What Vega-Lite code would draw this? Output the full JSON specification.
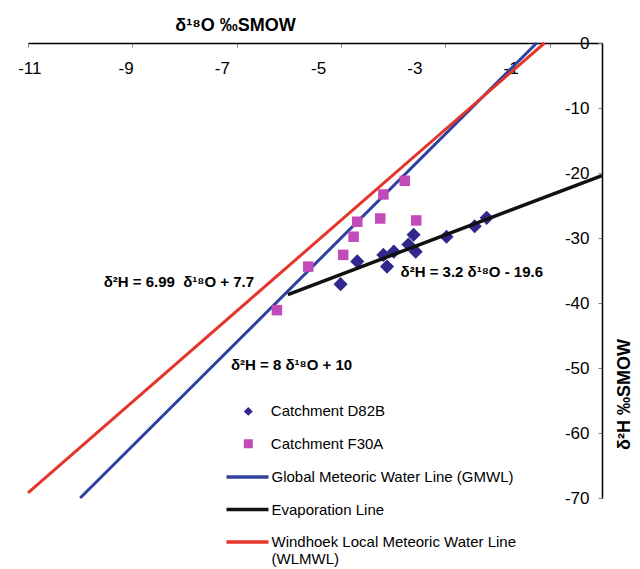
{
  "$schema": "https://vega.github.io/schema/vega-lite/v6.json",
  "width": 574,
  "height": 455,
  "autosize": {"type": "none"},
  "padding": {"left": 28, "top": 43, "right": 38, "bottom": 71},
  "background": "white",
  "config": {"view": {"stroke": null}, "font": "Liberation Sans", "axis": {"grid": false}},
  "datasets": {
    "pts": [
      {"x": -5.01, "y": -37.1, "series": "Catchment D82B"},
      {"x": -4.69, "y": -33.6, "series": "Catchment D82B"},
      {"x": -4.19, "y": -32.6, "series": "Catchment D82B"},
      {"x": -4.12, "y": -34.4, "series": "Catchment D82B"},
      {"x": -3.99, "y": -32.1, "series": "Catchment D82B"},
      {"x": -3.61, "y": -29.5, "series": "Catchment D82B"},
      {"x": -3.57, "y": -32.1, "series": "Catchment D82B"},
      {"x": -3.71, "y": -31.0, "series": "Catchment D82B"},
      {"x": -2.98, "y": -29.8, "series": "Catchment D82B"},
      {"x": -2.44, "y": -28.2, "series": "Catchment D82B"},
      {"x": -2.21, "y": -26.9, "series": "Catchment D82B"},
      {"x": -3.78, "y": -21.2, "series": "Catchment F30A"},
      {"x": -4.19, "y": -23.3, "series": "Catchment F30A"},
      {"x": -4.69, "y": -27.5, "series": "Catchment F30A"},
      {"x": -4.25, "y": -27.0, "series": "Catchment F30A"},
      {"x": -3.56, "y": -27.3, "series": "Catchment F30A"},
      {"x": -4.76, "y": -29.8, "series": "Catchment F30A"},
      {"x": -4.96, "y": -32.6, "series": "Catchment F30A"},
      {"x": -5.63, "y": -34.4, "series": "Catchment F30A"},
      {"x": -6.23, "y": -41.1, "series": "Catchment F30A"}
    ],
    "lines": [
      {"x": -10, "y": -70, "line": "Global Meteoric Water Line (GMWL)"},
      {"x": -1.25, "y": 0, "line": "Global Meteoric Water Line (GMWL)"},
      {"x": -11, "y": -69.2, "line": "Windhoek Local Meteoric Water Line (WLMWL)"},
      {"x": -1.1, "y": 0, "line": "Windhoek Local Meteoric Water Line (WLMWL)"},
      {"x": -6.02, "y": -38.7, "line": "Evaporation Line"},
      {"x": 0, "y": -20.4, "line": "Evaporation Line"}
    ],
    "notes": [
      {"x": -9.55, "y": -36.8, "label": "δ²H = 6.99\u00a0 δ¹⁸O + 7.7"},
      {"x": -3.86, "y": -35.3, "label": "δ²H = 3.2 δ¹⁸O - 19.6"},
      {"x": -7.11, "y": -49.6, "label": "δ²H = 8 δ¹⁸O + 10"}
    ]
  },
  "encoding": {
    "x": {
      "field": "x", "type": "quantitative",
      "scale": {"domain": [-11, 0], "nice": false, "zero": false},
      "axis": {
        "orient": "bottom", "offset": -455,
        "values": [-11, -9, -7, -5, -3, -1],
        "labelExpr": "datum.value + ''",
        "title": "δ¹⁸O ‰SMOW", "titleFontSize": 18, "titleFontWeight": "bold", "titleColor": "black",
        "titleX": 207, "titleY": -18, "titleAlign": "center", "titleBaseline": "middle", "titleAnchor": null,
        "labelFontSize": 17, "labelColor": "black", "labelBaseline": "middle", "labelPadding": 21,
        "labelOffset": {"expr": "1.3 - 4.05*(datum.value + 11)"},
        "labelFlush": false, "labelOverlap": false,
        "tickSize": 4, "tickColor": "#888", "domainColor": "black", "domainWidth": 1.5
      }
    },
    "y": {
      "field": "y", "type": "quantitative",
      "scale": {"domain": [-70, 0], "nice": false, "zero": false},
      "axis": {
        "orient": "left", "offset": -574,
        "values": [0, -10, -20, -30, -40, -50, -60, -70],
        "labelExpr": "datum.value + ''",
        "title": "δ²H ‰SMOW", "titleFontSize": 18, "titleFontWeight": "bold", "titleColor": "black",
        "titleAngle": 270, "titleX": 22.5, "titleY": 351, "titleAlign": "center", "titleBaseline": "middle", "titleAnchor": null,
        "labelFontSize": 17, "labelColor": "black", "labelPadding": 9, "labelFlush": false, "labelOverlap": false,
        "tickSize": 4, "tickColor": "#888", "domainColor": "black", "domainWidth": 1.5
      }
    }
  },
  "layer": [
    {
      "data": {"name": "lines"},
      "transform": [{"filter": "datum.line != 'Evaporation Line'"}],
      "mark": {"type": "line", "strokeWidth": 3},
      "encoding": {
        "stroke": {
          "field": "line", "type": "nominal",
          "scale": {
            "domain": ["Global Meteoric Water Line (GMWL)", "Evaporation Line", "Windhoek Local Meteoric Water Line (WLMWL)"],
            "range": ["#3040a0", "#111111", "#e5352b"]
          },
          "legend": {
            "orient": "none", "legendX": 196.5, "legendY": 426, "title": null, "padding": 0,
            "symbolType": "stroke", "symbolSize": 1764, "symbolStrokeWidth": 3.5,
            "labelFontSize": 15, "labelColor": "black", "labelOffset": 1, "labelLimit": 600,
            "clipHeight": 16, "rowPadding": 16.5,
            "labelExpr": "datum.label == 'Windhoek Local Meteoric Water Line (WLMWL)' ? ['Windhoek Local Meteoric Water Line', '(WLMWL)'] : datum.label"
          }
        }
      }
    },
    {
      "data": {"name": "pts"},
      "mark": {"type": "point", "filled": true, "opacity": 1, "strokeWidth": 0},
      "encoding": {
        "color": {
          "field": "series", "type": "nominal",
          "scale": {"domain": ["Catchment D82B", "Catchment F30A"], "range": ["#32278c", "#c14bb8"]},
          "legend": {
            "orient": "none", "legendX": 212.8, "legendY": 360.4, "title": null, "padding": 0,
            "symbolSize": 80, "labelFontSize": 15, "labelColor": "black", "labelOffset": 15, "labelLimit": 600,
            "clipHeight": 16, "rowPadding": 16.4
          }
        },
        "shape": {
          "field": "series", "type": "nominal",
          "scale": {"domain": ["Catchment D82B", "Catchment F30A"], "range": ["diamond", "square"]},
          "legend": {
            "orient": "none", "legendX": 212.8, "legendY": 360.4, "title": null, "padding": 0,
            "symbolSize": 80, "labelFontSize": 15, "labelColor": "black", "labelOffset": 15, "labelLimit": 600,
            "clipHeight": 16, "rowPadding": 16.4
          }
        },
        "size": {"condition": {"test": "datum.series == 'Catchment D82B'", "value": 200}, "value": 110}
      }
    },
    {
      "data": {"name": "lines"},
      "transform": [{"filter": "datum.line == 'Evaporation Line'"}],
      "mark": {"type": "line", "strokeWidth": 3.5},
      "encoding": {
        "stroke": {
          "field": "line", "type": "nominal",
          "scale": {
            "domain": ["Global Meteoric Water Line (GMWL)", "Evaporation Line", "Windhoek Local Meteoric Water Line (WLMWL)"],
            "range": ["#3040a0", "#111111", "#e5352b"]
          },
          "legend": {
            "orient": "none", "legendX": 196.5, "legendY": 426, "title": null, "padding": 0,
            "symbolType": "stroke", "symbolSize": 1764, "symbolStrokeWidth": 3.5,
            "labelFontSize": 15, "labelColor": "black", "labelOffset": 1, "labelLimit": 600,
            "clipHeight": 16, "rowPadding": 16.5,
            "labelExpr": "datum.label == 'Windhoek Local Meteoric Water Line (WLMWL)' ? ['Windhoek Local Meteoric Water Line', '(WLMWL)'] : datum.label"
          }
        }
      }
    },
    {
      "data": {"name": "notes"},
      "mark": {"type": "text", "align": "left", "baseline": "middle", "fontSize": 15, "fontWeight": "bold", "color": "black"},
      "encoding": {"text": {"field": "label"}}
    }
  ]
}
